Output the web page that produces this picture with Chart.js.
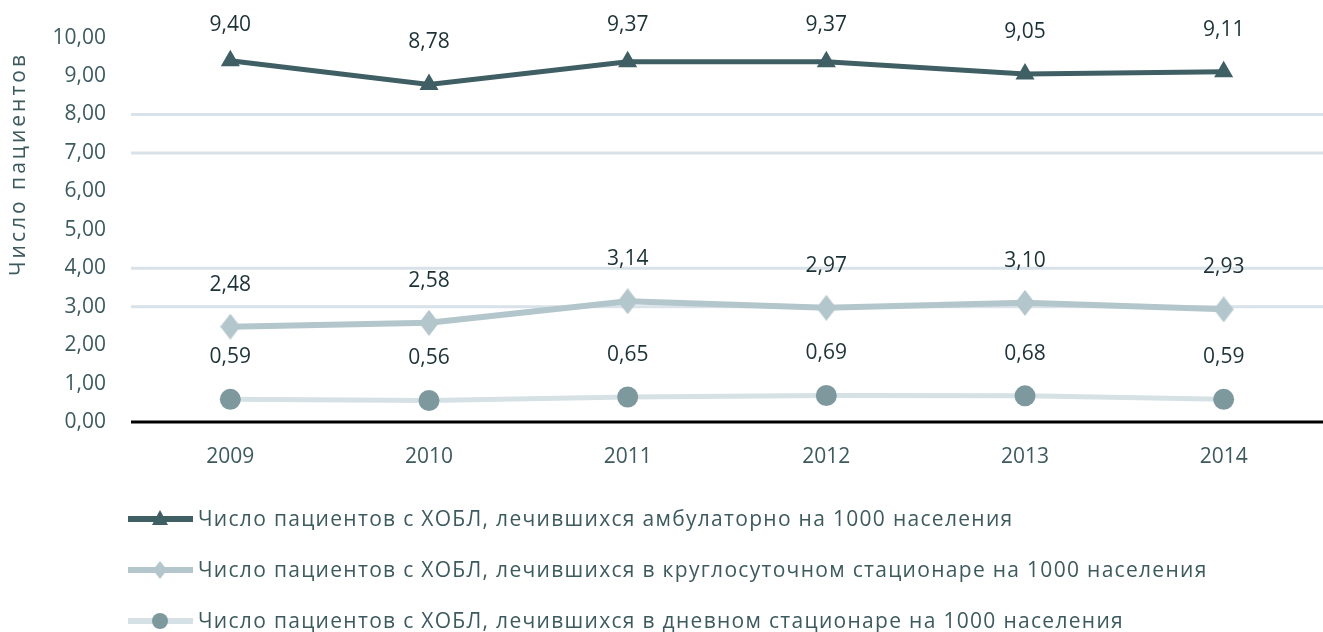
<!DOCTYPE html>
<html lang="ru">
<head>
<meta charset="utf-8">
<script src="https://cdn.jsdelivr.net/npm/chart.js@4/dist/chart.umd.min.js"></script>
<style>
  html, body { margin: 0; padding: 0; background: #ffffff; overflow: hidden; }
  #wrap { position: relative; width: 1335px; height: 632px; }
</style>
</head>
<body>
<div id="wrap"><canvas id="chart"></canvas></div>
<script>
// Years on the horizontal axis
const years = ['2009', '2010', '2011', '2012', '2013', '2014'];

// Patients with COPD per 1000 population
const outpatient = [9.40, 8.78, 9.37, 9.37, 9.05, 9.11];
const roundTheClock = [2.48, 2.58, 3.14, 2.97, 3.10, 2.93];
const dayHospital = [0.59, 0.56, 0.65, 0.69, 0.68, 0.59];

const seriesNames = [
  'Число пациентов с ХОБЛ, лечившихся амбулаторно на 1000 населения',
  'Число пациентов с ХОБЛ, лечившихся в круглосуточном стационаре на 1000 населения',
  'Число пациентов с ХОБЛ, лечившихся в дневном стационаре на 1000 населения'
];

const yTitle = 'Число пациентов';
const yMin = 0, yMax = 10, yStep = 1;
// Horizontal guide lines are drawn only at these levels
const gridLevels = [3, 4, 7, 8];

const DARK = '#3f5f64';
const MID = '#b3c6cb';
const PALE = '#d6e1e5';
const DOT = '#7e999e';
const TEXT = '#3d5a5f';
const LABEL = '#1c3237';
const GRID = '#d9e2e8';
const FONT = '"Open Sans", "DejaVu Sans", sans-serif';

const fmt = v => v.toFixed(2).replace('.', ',');

// Slightly tall diamond used as the marker of the round-the-clock series
function makeDiamond(w, h, color) {
  const c = document.createElement('canvas');
  c.width = w; c.height = h;
  const g = c.getContext('2d');
  g.fillStyle = color;
  g.beginPath();
  g.moveTo(w / 2, 0);
  g.lineTo(w, h / 2);
  g.lineTo(w / 2, h);
  g.lineTo(0, h / 2);
  g.closePath();
  g.fill();
  return c;
}
const diamond = makeDiamond(20, 26, MID);
const diamondSmall = makeDiamond(14, 18, MID);

// Guide lines at selected levels plus the solid baseline at zero
const guideLines = {
  id: 'guideLines',
  beforeDatasetsDraw(chart) {
    const { ctx, chartArea: a, scales: { y } } = chart;
    ctx.save();
    ctx.lineWidth = 3;
    ctx.strokeStyle = GRID;
    gridLevels.forEach(v => {
      const py = y.getPixelForValue(v);
      ctx.beginPath();
      ctx.moveTo(a.left, py);
      ctx.lineTo(a.right, py);
      ctx.stroke();
    });
    ctx.strokeStyle = '#000000';
    const p0 = y.getPixelForValue(yMin);
    ctx.beginPath();
    ctx.moveTo(a.left, p0);
    ctx.lineTo(a.right, p0);
    ctx.stroke();
    ctx.restore();
  }
};

// Value labels above every point
const valueLabels = {
  id: 'valueLabels',
  afterDatasetsDraw(chart) {
    const ctx = chart.ctx;
    ctx.save();
    ctx.font = '21px ' + FONT;
    ctx.fillStyle = LABEL;
    ctx.textAlign = 'center';
    ctx.textBaseline = 'middle';
    chart.data.datasets.forEach((ds, i) => {
      chart.getDatasetMeta(i).data.forEach((pt, j) => {
        const y = Math.max(25, pt.y - 42);
        ctx.fillText(fmt(ds.data[j]), pt.x, y);
      });
    });
    ctx.restore();
  }
};

// Rotated axis title and the three-row legend at the bottom
const decorations = {
  id: 'decorations',
  afterDraw(chart) {
    const ctx = chart.ctx;
    ctx.save();
    ctx.fillStyle = TEXT;
    ctx.font = '21px ' + FONT;
    ctx.letterSpacing = '3px';
    ctx.textAlign = 'center';
    ctx.textBaseline = 'middle';
    ctx.translate(19, 164);
    ctx.rotate(-Math.PI / 2);
    ctx.fillText(yTitle, 0, 0);
    ctx.restore();

    const rows = [
      { y: 519, line: DARK, marker: 'triangle', color: DARK },
      { y: 570, line: MID, marker: 'diamond', color: MID },
      { y: 621, line: PALE, marker: 'circle', color: DOT }
    ];
    ctx.save();
    rows.forEach((r, i) => {
      ctx.strokeStyle = r.line;
      ctx.lineWidth = 6;
      ctx.beginPath();
      ctx.moveTo(128, r.y);
      ctx.lineTo(193, r.y);
      ctx.stroke();
      ctx.fillStyle = r.color;
      const cx = 160;
      if (r.marker === 'triangle') {
        ctx.beginPath();
        ctx.moveTo(cx, r.y - 9);
        ctx.lineTo(cx + 8, r.y + 6);
        ctx.lineTo(cx - 8, r.y + 6);
        ctx.closePath();
        ctx.fill();
      } else if (r.marker === 'diamond') {
        ctx.drawImage(diamondSmall, cx - 7, r.y - 9);
      } else {
        ctx.beginPath();
        ctx.arc(cx, r.y, 8, 0, Math.PI * 2);
        ctx.fill();
      }
      ctx.fillStyle = TEXT;
      ctx.font = '21px ' + FONT;
      ctx.letterSpacing = '1.3px';
      ctx.textAlign = 'left';
      ctx.textBaseline = 'middle';
      ctx.fillText(seriesNames[i], 198, r.y + 1);
    });
    ctx.restore();
  }
};

new Chart(document.getElementById('chart'), {
  type: 'line',
  data: {
    labels: years,
    datasets: [
      {
        label: seriesNames[0], data: outpatient,
        borderColor: DARK, backgroundColor: DARK, borderWidth: 5,
        pointStyle: 'triangle', pointRadius: 11, pointHoverRadius: 11,
        pointBackgroundColor: DARK, pointBorderWidth: 0, tension: 0
      },
      {
        label: seriesNames[1], data: roundTheClock,
        borderColor: MID, backgroundColor: MID, borderWidth: 6,
        pointStyle: diamond, pointRadius: 12, pointHoverRadius: 12,
        pointBorderWidth: 0, tension: 0
      },
      {
        label: seriesNames[2], data: dayHospital,
        borderColor: PALE, backgroundColor: DOT, borderWidth: 5,
        pointStyle: 'circle', pointRadius: 10.5, pointHoverRadius: 10.5,
        pointBackgroundColor: DOT, pointBorderWidth: 0, tension: 0
      }
    ]
  },
  options: {
    responsive: true,
    maintainAspectRatio: false,
    animation: false,
    events: [],
    layout: { padding: { top: 35, right: 1, bottom: 150, left: 0 } },
    plugins: { legend: { display: false }, tooltip: { enabled: false } },
    scales: {
      x: {
        offset: true,
        grid: { display: false, drawTicks: false },
        border: { display: false },
        ticks: { color: TEXT, font: { family: FONT, size: 21 }, padding: 22, maxRotation: 0 },
        afterFit(scale) { scale.height = 60; }
      },
      y: {
        min: yMin, max: yMax,
        grid: { display: false, drawTicks: false },
        border: { display: false },
        ticks: {
          stepSize: yStep, color: TEXT, padding: 25,
          font: { family: FONT, size: 21 },
          callback: v => fmt(v)
        },
        afterFit(scale) { scale.width = 131; }
      }
    }
  },
  plugins: [guideLines, valueLabels, decorations]
});
</script>
</body>
</html>
